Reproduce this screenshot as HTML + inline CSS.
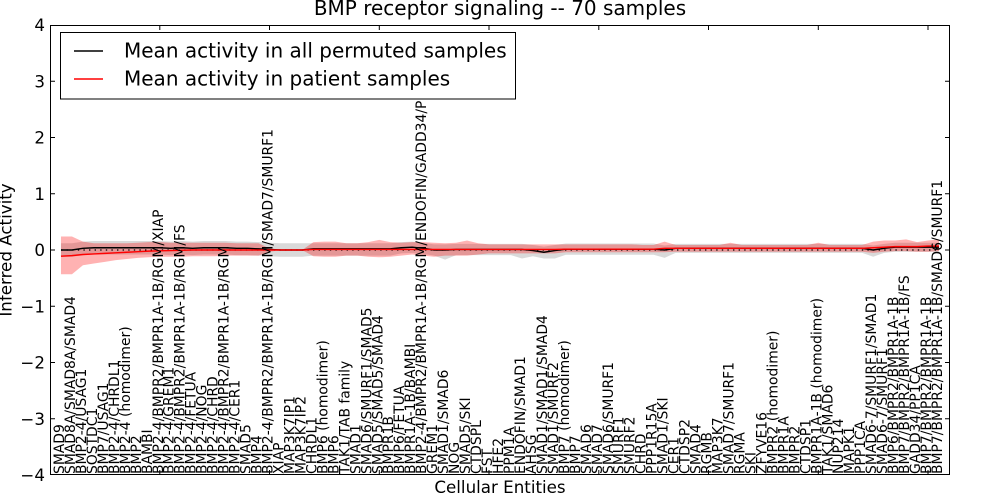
<!DOCTYPE html>
<html>
<head>
<meta charset="utf-8">
<style>
html,body{margin:0;padding:0;background:#fff;}
svg{display:block;}
text{font-family:"DejaVu Sans","Liberation Sans",sans-serif;fill:#000;}
</style>
</head>
<body>
<svg width="1000" height="500" viewBox="0 0 1000 500" xmlns="http://www.w3.org/2000/svg">
<rect x="0" y="0" width="1000" height="500" fill="#fff"/>

<!-- data in data coordinates -->
<g transform="translate(50,250) scale(10.97561,-56.25)">
  <!-- gray band (permuted) -->
  <polygon fill="#808080" fill-opacity="0.3" points="1,.12 2,.12 3,.15 4,.16 5,.16 6,.16 7,.16 8,.16 9,.16 10,.16 11,.15 12,.16 13,.15 14,.16 15,.16 16,.16 17,.15 18,.15 19,.14 20,.13 21,.12 22,.12 23,.12 24,.12 25,.12 26,.12 27,.12 28,.12 29,.12 30,.12 31,.12 32,.14 33,.15 34,.13 35,.1 36,.1 37,.11 38,.11 39,.11 40,.11 41,.11 42,.11 43,.11 44,.09 45,.06 46,.09 47,.115 55,.115 56,.08 57,.11 74,.11 75,.08 76,.11 77,.13 81,.13 81,-.03 77,-.03 76,-.05 75,-.12 74,-.05 57,-.05 56,-.14 55,-.085 47,-.085 46,-.15 45,-.15 44,-.11 43,-.15 42,-.09 37,-.09 36,-.17 35,-.1 34,-.07 33,-.05 32,-.06 31,-.1 24,-.1 23,-.12 22,-.12 21,-.12 20,-.11 19,-.10 18,-.09 17,-.09 16,-.08 15,-.08 14,-.08 13,-.09 12,-.08 11,-.09 10,-.08 4,-.08 3,-.09 2,-.12 1,-.12"/>
  <!-- red band (patients) -->
  <polygon fill="#ff0000" fill-opacity="0.3" points="1,.24 2,.24 3,.15 4,.12 5,.12 6,.12 7,.12 8,.13 9,.14 10,.14 11,.13 12,.13 13,.13 14,.13 15,.13 16,.13 17,.12 18,.12 19,.12 20,.03 21,.005 22,.005 23,.005 24,.14 25,.15 26,.15 27,.12 28,.12 29,.14 30,.18 31,.14 32,.13 33,.14 34,.14 35,.13 36,.12 37,.13 38,.17 39,.12 40,.1 53,.1 54,.09 55,.09 56,.15 57,.09 61,.09 62,.13 63,.09 69,.09 70,.13 71,.09 74,.09 75,.15 76,.17 77,.17 78,.19 79,.14 80,.17 81,.19 81,-.02 80,-.03 79,-.03 78,-.02 77,-.02 76,-.03 75,-.05 74,-.03 57,-.03 56,-.04 47,-.04 46,-.06 40,-.06 39,-.08 38,-.1 36,-.1 35,-.12 34,-.1 33,-.08 32,-.1 31,-.12 30,-.13 29,-.12 28,-.1 27,-.1 26,-.12 25,-.12 24,-.11 23,-.005 21,-.005 20,-.03 19,-.1 16,-.1 15,-.11 13,-.11 12,-.12 10,-.12 9,-.13 8,-.14 7,-.16 6,-.18 5,-.21 4,-.24 3,-.27 2,-.43 1,-.43"/>
</g>

<!-- dotted zero line -->
<line x1="61" y1="250" x2="939" y2="250" stroke="#000" stroke-width="1.2" stroke-dasharray="1.4 4.2"/>

<g transform="translate(50,250) scale(10.97561,-56.25)" fill="none">
  <polyline vector-effect="non-scaling-stroke" stroke="#000" stroke-width="1.4" stroke-linejoin="round" points="1,0 2,0 3,.03 4,.04 10,.04 11,.03 12,.04 13,.03 14,.04 16,.04 17,.03 18,.03 19,.02 20,.01 21,0 23,0 24,.02 31,.02 32,.04 33,.05 34,.03 35,0 36,0 37,.01 43,.01 44,-.01 45,-.04 46,-.01 47,.015 55,.015 56,0 57,.03 74,.03 75,0 76,.03 77,.05 81,.05"/>
  <polyline vector-effect="non-scaling-stroke" stroke="#ff0000" stroke-width="1.4" stroke-linejoin="round" points="1,-.11 2,-.10 3,-.08 4,-.07 5,-.06 6,-.05 7,-.04 8,-.03 9,-.02 10,-.015 11,-.01 12,-.005 13,0 23,0 24,.01 46,.01 47,.015 55,.015 56,.03 74,.03 75,.04 76,.05 77,.06 79,.06 80,.07 81,.07"/>
</g>

<!-- entity labels -->
<g font-size="13.9">
<text transform="translate(60.98,474) rotate(-90)" y="3">SMAD9</text>
<text transform="translate(71.95,474) rotate(-90)" y="3">SMAD8A/SMAD8A/SMAD4</text>
<text transform="translate(82.93,474) rotate(-90)" y="3">BMP2-4/USAG1</text>
<text transform="translate(93.90,474) rotate(-90)" y="3">SOSTDC1</text>
<text transform="translate(104.88,474) rotate(-90)" y="3">BMP7/USAG1</text>
<text transform="translate(115.85,474) rotate(-90)" y="3">BMP2-4/CHRDL1</text>
<text transform="translate(126.83,474) rotate(-90)" y="3">BMP2-4 (homodimer)</text>
<text transform="translate(137.80,474) rotate(-90)" y="3">BMP2</text>
<text transform="translate(148.78,474) rotate(-90)" y="3">BAMBI</text>
<text transform="translate(159.76,474) rotate(-90)" y="3">BMP2-4/BMPR2/BMPR1A-1B/RGM/XIAP</text>
<text transform="translate(170.73,474) rotate(-90)" y="3">BMP2-4/GREM1</text>
<text transform="translate(181.71,474) rotate(-90)" y="3">BMP2-4/BMPR2/BMPR1A-1B/RGM/FS</text>
<text transform="translate(192.68,474) rotate(-90)" y="3">BMP2-4/FETUA</text>
<text transform="translate(203.66,474) rotate(-90)" y="3">BMP2-4/NOG</text>
<text transform="translate(214.63,474) rotate(-90)" y="3">BMP2-4/CHRD</text>
<text transform="translate(225.61,474) rotate(-90)" y="3">BMP2-4/BMPR2/BMPR1A-1B/RGM</text>
<text transform="translate(236.59,474) rotate(-90)" y="3">BMP2-4/CER1</text>
<text transform="translate(247.56,474) rotate(-90)" y="3">SMAD5</text>
<text transform="translate(258.54,474) rotate(-90)" y="3">BMP4</text>
<text transform="translate(269.51,474) rotate(-90)" y="3">BMP2-4/BMPR2/BMPR1A-1B/RGM/SMAD7/SMURF1</text>
<text transform="translate(280.49,474) rotate(-90)" y="3">XIAP</text>
<text transform="translate(291.46,474) rotate(-90)" y="3">MAP3K7IP1</text>
<text transform="translate(302.44,474) rotate(-90)" y="3">MAP3K7IP2</text>
<text transform="translate(313.41,474) rotate(-90)" y="3">CHRDL1</text>
<text transform="translate(324.39,474) rotate(-90)" y="3">BMP6 (homodimer)</text>
<text transform="translate(335.37,474) rotate(-90)" y="3">BMP6</text>
<text transform="translate(346.34,474) rotate(-90)" y="3">TAK1/TAB family</text>
<text transform="translate(357.32,474) rotate(-90)" y="3">SMAD1</text>
<text transform="translate(368.29,474) rotate(-90)" y="3">SMAD6/SMURF1/SMAD5</text>
<text transform="translate(379.27,474) rotate(-90)" y="3">SMAD5/SMAD5/SMAD4</text>
<text transform="translate(390.24,474) rotate(-90)" y="3">BMPR1B</text>
<text transform="translate(401.22,474) rotate(-90)" y="3">BMP6/FETUA</text>
<text transform="translate(412.20,474) rotate(-90)" y="3">BMPR1A-1B/BAMBI</text>
<text transform="translate(423.17,474) rotate(-90)" y="3">BMP2-4/BMPR2/BMPR1A-1B/RGM/ENDOFIN/GADD34/PP1CA</text>
<text transform="translate(434.15,474) rotate(-90)" y="3">GREM1</text>
<text transform="translate(445.12,474) rotate(-90)" y="3">SMAD1/SMAD6</text>
<text transform="translate(456.10,474) rotate(-90)" y="3">NOG</text>
<text transform="translate(467.07,474) rotate(-90)" y="3">SMAD5/SKI</text>
<text transform="translate(478.05,474) rotate(-90)" y="3">CTDSPL</text>
<text transform="translate(489.02,474) rotate(-90)" y="3">FST</text>
<text transform="translate(500.00,474) rotate(-90)" y="3">HFE2</text>
<text transform="translate(510.98,474) rotate(-90)" y="3">PPM1A</text>
<text transform="translate(521.95,474) rotate(-90)" y="3">ENDOFIN/SMAD1</text>
<text transform="translate(532.93,474) rotate(-90)" y="3">AHSG</text>
<text transform="translate(543.90,474) rotate(-90)" y="3">SMAD1/SMAD1/SMAD4</text>
<text transform="translate(554.88,474) rotate(-90)" y="3">SMAD1/SMURF2</text>
<text transform="translate(565.85,474) rotate(-90)" y="3">BMP7 (homodimer)</text>
<text transform="translate(576.83,474) rotate(-90)" y="3">BMP7</text>
<text transform="translate(587.80,474) rotate(-90)" y="3">SMAD6</text>
<text transform="translate(598.78,474) rotate(-90)" y="3">SMAD7</text>
<text transform="translate(609.76,474) rotate(-90)" y="3">SMAD6/SMURF1</text>
<text transform="translate(620.73,474) rotate(-90)" y="3">SMURF1</text>
<text transform="translate(631.71,474) rotate(-90)" y="3">SMURF2</text>
<text transform="translate(642.68,474) rotate(-90)" y="3">CHRD</text>
<text transform="translate(653.66,474) rotate(-90)" y="3">PPP1R15A</text>
<text transform="translate(664.63,474) rotate(-90)" y="3">SMAD1/SKI</text>
<text transform="translate(675.61,474) rotate(-90)" y="3">CER1</text>
<text transform="translate(686.59,474) rotate(-90)" y="3">CTDSP2</text>
<text transform="translate(697.56,474) rotate(-90)" y="3">SMAD4</text>
<text transform="translate(708.54,474) rotate(-90)" y="3">RGMB</text>
<text transform="translate(719.51,474) rotate(-90)" y="3">MAP3K7</text>
<text transform="translate(730.49,474) rotate(-90)" y="3">SMAD7/SMURF1</text>
<text transform="translate(741.46,474) rotate(-90)" y="3">RGMA</text>
<text transform="translate(752.44,474) rotate(-90)" y="3">SKI</text>
<text transform="translate(763.41,474) rotate(-90)" y="3">ZFYVE16</text>
<text transform="translate(774.39,474) rotate(-90)" y="3">BMPR2 (homodimer)</text>
<text transform="translate(785.37,474) rotate(-90)" y="3">BMPR1A</text>
<text transform="translate(796.34,474) rotate(-90)" y="3">BMPR2</text>
<text transform="translate(807.32,474) rotate(-90)" y="3">CTDSP1</text>
<text transform="translate(818.29,474) rotate(-90)" y="3">BMPR1A-1B (homodimer)</text>
<text transform="translate(829.27,474) rotate(-90)" y="3">TAK1/SMAD6</text>
<text transform="translate(840.24,474) rotate(-90)" y="3">NUP214</text>
<text transform="translate(851.22,474) rotate(-90)" y="3">MAPK1</text>
<text transform="translate(862.20,474) rotate(-90)" y="3">PPP1CA</text>
<text transform="translate(873.17,474) rotate(-90)" y="3">SMAD6-7/SMURF1/SMAD1</text>
<text transform="translate(884.15,474) rotate(-90)" y="3">SMAD6-7/SMURF1</text>
<text transform="translate(895.12,474) rotate(-90)" y="3">BMP6/BMPR2/BMPR1A-1B</text>
<text transform="translate(906.10,474) rotate(-90)" y="3">BMP7/BMPR2/BMPR1A-1B/FS</text>
<text transform="translate(917.07,474) rotate(-90)" y="3">GADD34/PP1CA</text>
<text transform="translate(928.05,474) rotate(-90)" y="3">BMP7/BMPR2/BMPR1A-1B</text>
<text transform="translate(939.02,474) rotate(-90)" y="3">BMP7/BMPR2/BMPR1A-1B/SMAD6/SMURF1</text>
</g>

<!-- axes frame -->
<rect x="50.5" y="25.5" width="899" height="449" fill="none" stroke="#000" stroke-width="1"/>

<!-- ticks -->
<g stroke="#000" stroke-width="1">
  <line x1="50" y1="81.25" x2="55" y2="81.25"/><line x1="950" y1="81.25" x2="945" y2="81.25"/>
  <line x1="50" y1="137.5" x2="55" y2="137.5"/><line x1="950" y1="137.5" x2="945" y2="137.5"/>
  <line x1="50" y1="193.75" x2="55" y2="193.75"/><line x1="950" y1="193.75" x2="945" y2="193.75"/>
  <line x1="50" y1="250" x2="55" y2="250"/><line x1="950" y1="250" x2="945" y2="250"/>
  <line x1="50" y1="306.25" x2="55" y2="306.25"/><line x1="950" y1="306.25" x2="945" y2="306.25"/>
  <line x1="50" y1="362.5" x2="55" y2="362.5"/><line x1="950" y1="362.5" x2="945" y2="362.5"/>
  <line x1="50" y1="418.75" x2="55" y2="418.75"/><line x1="950" y1="418.75" x2="945" y2="418.75"/>
  <line x1="159.8" y1="475" x2="159.8" y2="470"/><line x1="159.8" y1="25" x2="159.8" y2="30"/>
  <line x1="269.5" y1="475" x2="269.5" y2="470"/><line x1="269.5" y1="25" x2="269.5" y2="30"/>
  <line x1="379.3" y1="475" x2="379.3" y2="470"/><line x1="379.3" y1="25" x2="379.3" y2="30"/>
  <line x1="489.0" y1="475" x2="489.0" y2="470"/><line x1="489.0" y1="25" x2="489.0" y2="30"/>
  <line x1="598.8" y1="475" x2="598.8" y2="470"/><line x1="598.8" y1="25" x2="598.8" y2="30"/>
  <line x1="708.5" y1="475" x2="708.5" y2="470"/><line x1="708.5" y1="25" x2="708.5" y2="30"/>
  <line x1="818.3" y1="475" x2="818.3" y2="470"/><line x1="818.3" y1="25" x2="818.3" y2="30"/>
  <line x1="928.0" y1="475" x2="928.0" y2="470"/><line x1="928.0" y1="25" x2="928.0" y2="30"/>
</g>

<!-- y tick labels -->
<g font-size="16.7" text-anchor="end">
  <text x="45" y="31">4</text>
  <text x="45" y="87.25">3</text>
  <text x="45" y="143.5">2</text>
  <text x="45" y="199.75">1</text>
  <text x="45" y="256">0</text>
  <text x="45" y="312.25">−1</text>
  <text x="45" y="368.5">−2</text>
  <text x="45" y="424.75">−3</text>
  <text x="45" y="481">−4</text>
</g>

<!-- legend -->
<rect x="60.5" y="32.5" width="455" height="66.5" fill="#fff" stroke="#000" stroke-width="1"/>
<line x1="74" y1="51" x2="103" y2="51" stroke="#000" stroke-width="1.4"/>
<line x1="74" y1="79" x2="103" y2="79" stroke="#ff0000" stroke-width="1.4"/>
<text x="124" y="57.5" font-size="20">Mean activity in all permuted samples</text>
<text x="124" y="85.5" font-size="20">Mean activity in patient samples</text>

<!-- title and axis labels -->
<text x="500" y="15" font-size="20" text-anchor="middle">BMP receptor signaling -- 70 samples</text>
<text x="500" y="493" font-size="16.7" text-anchor="middle">Cellular Entities</text>
<text transform="translate(11.5,250) rotate(-90)" font-size="16.7" text-anchor="middle">Inferred Activity</text>
</svg>
</body>
</html>
